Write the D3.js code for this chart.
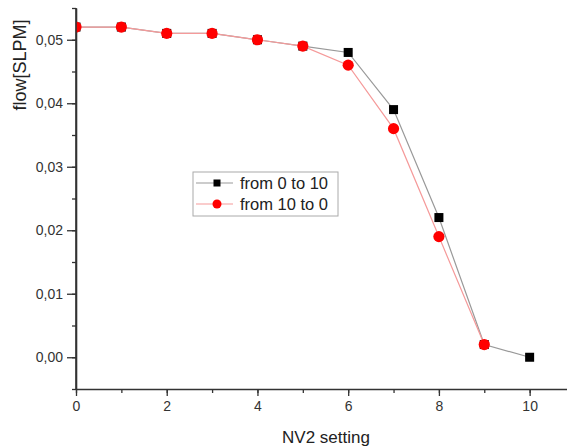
<!DOCTYPE html>
<html>
<head>
<meta charset="utf-8">
<script src="https://cdn.jsdelivr.net/npm/d3@7"></script>
<style>
  body { margin: 0; background: #fff; }
  svg { font-family: Arial, "Liberation Sans", sans-serif; }
</style>
</head>
<body>
<svg id="chart" width="567" height="447"></svg>
<script>
// settings on the NV2 valve
var settingsUp = [0, 1, 2, 3, 4, 5, 6, 7, 8, 9, 10];
var flowUp = [0.052, 0.052, 0.051, 0.051, 0.050, 0.049, 0.048, 0.039, 0.022, 0.002, 0.000];
var settingsDown = [0, 1, 2, 3, 4, 5, 6, 7, 8, 9];
var flowDown = [0.052, 0.052, 0.051, 0.051, 0.050, 0.049, 0.046, 0.036, 0.019, 0.002];
var xTicks = [0, 2, 4, 6, 8, 10];
var yTicks = [0.00, 0.01, 0.02, 0.03, 0.04, 0.05];
var legendLabels = ["from 0 to 10", "from 10 to 0"];

var svg = d3.select("#chart");
var mLeft = 76, mRight = 575, mTop = 8, mBottom = 389;

var x = d3.scaleLinear().domain([0, 11]).range([mLeft, mRight]);
var y = d3.scaleLinear().domain([-0.005, 0.055]).range([mBottom, mTop]);

var fmt = function(d){ return d3.format(".2f")(d).replace(".", ","); };

svg.append("clipPath").attr("id", "plotClip")
    .append("rect").attr("x", mLeft).attr("y", 0).attr("width", 567 - mLeft).attr("height", mBottom);

// minor ticks
svg.append("g").attr("transform", "translate(0," + mBottom + ")")
    .call(d3.axisBottom(x).tickValues(d3.range(0, 11, 1)).tickSize(4).tickFormat(""))
    .call(function(g){ g.select(".domain").remove(); g.selectAll("line").attr("stroke", "#333").attr("stroke-width", 1.3); });
svg.append("g").attr("transform", "translate(" + mLeft + ",0)")
    .call(d3.axisLeft(y).tickValues(d3.range(-0.005, 0.0551, 0.005)).tickSize(4).tickFormat(""))
    .call(function(g){ g.select(".domain").remove(); g.selectAll("line").attr("stroke", "#333").attr("stroke-width", 1.3); });

// major axes
var xAxis = svg.append("g").attr("transform", "translate(0," + mBottom + ")")
    .call(d3.axisBottom(x).tickValues(xTicks).tickSize(7).tickSizeOuter(0).tickPadding(5));
var yAxis = svg.append("g").attr("transform", "translate(" + mLeft + ",0)")
    .call(d3.axisLeft(y).tickValues(yTicks).tickSize(9).tickSizeOuter(0).tickPadding(4).tickFormat(fmt));

[xAxis, yAxis].forEach(function(g){
    g.select(".domain").attr("stroke", "#333").attr("stroke-width", 1.6);
    g.selectAll("line").attr("stroke", "#333").attr("stroke-width", 1.3);
    g.selectAll("text").attr("fill", "#333").style("font-size", "14px").style("font-family", "Arial, 'Liberation Sans', sans-serif");
});

var plot = svg.append("g").attr("clip-path", "url(#plotClip)");

var line = d3.line().x(function(d){ return x(d[0]); }).y(function(d){ return y(d[1]); });
var upData = d3.zip(settingsUp, flowUp);
var downData = d3.zip(settingsDown, flowDown);

plot.append("path").datum(upData).attr("d", line)
    .attr("fill", "none").attr("stroke", "#999").attr("stroke-width", 1.2);
plot.append("path").datum(downData).attr("d", line)
    .attr("fill", "none").attr("stroke", "#f59a9a").attr("stroke-width", 1.2);

plot.selectAll("rect.up").data(upData).enter().append("rect")
    .attr("class", "up")
    .attr("x", function(d){ return x(d[0]) - 4.5; })
    .attr("y", function(d){ return y(d[1]) - 4.5; })
    .attr("width", 9).attr("height", 9).attr("fill", "#000");

plot.selectAll("circle.down").data(downData).enter().append("circle")
    .attr("class", "down")
    .attr("cx", function(d){ return x(d[0]); })
    .attr("cy", function(d){ return y(d[1]); })
    .attr("r", 5.6).attr("fill", "#f00");

// re-draw y domain over clipped marks
svg.append("line").attr("x1", mLeft).attr("x2", mLeft).attr("y1", mTop).attr("y2", mBottom)
    .attr("stroke", "#333").attr("stroke-width", 1.6);

// legend
var lg = svg.append("g").attr("transform", "translate(193,172)");
lg.append("rect").attr("x", 0).attr("y", 0).attr("width", 145).attr("height", 44)
    .attr("fill", "#fff").attr("stroke", "#aaa").attr("stroke-width", 1);
var lrow = lg.selectAll("g.row").data(legendLabels).enter().append("g")
    .attr("class", "row")
    .attr("transform", function(d, i){ return "translate(0," + (11 + i * 21) + ")"; });
lrow.append("line").attr("x1", 3).attr("x2", 40).attr("y1", 0).attr("y2", 0)
    .attr("stroke", function(d, i){ return i === 0 ? "#999" : "#f59a9a"; }).attr("stroke-width", 1.2);
lrow.filter(function(d, i){ return i === 0; }).append("rect")
    .attr("x", 20.5).attr("y", -3.5).attr("width", 7).attr("height", 7).attr("fill", "#000");
lrow.filter(function(d, i){ return i === 1; }).append("circle")
    .attr("cx", 24).attr("cy", 0).attr("r", 4.5).attr("fill", "#f00");
lrow.append("text").attr("x", 47).attr("y", 6).text(function(d){ return d; })
    .attr("fill", "#222").style("font-size", "16.5px");

// axis titles
svg.append("text").attr("x", 326).attr("y", 443).attr("text-anchor", "middle")
    .attr("fill", "#222").style("font-size", "17px").text("NV2 setting");
svg.append("text").attr("transform", "translate(26,65) rotate(-90)").attr("text-anchor", "middle")
    .attr("fill", "#222").style("font-size", "18px").text("flow[SLPM]");
</script>
</body>
</html>
